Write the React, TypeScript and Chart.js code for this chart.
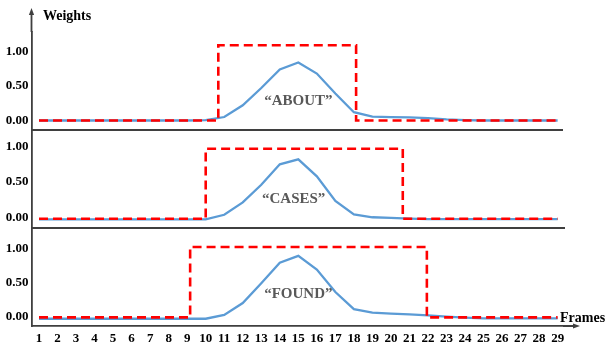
import React, { useEffect, useRef } from "react";
import { Chart, registerables } from "chart.js";

Chart.register(...registerables);

// ---------------- data ----------------
const FRAMES = [1, 2, 3, 4, 5, 6, 7, 8, 9, 10, 11, 12, 13, 14, 15, 16, 17, 18, 19, 20, 21, 22, 23, 24, 25, 26, 27, 28, 29];
const Y_TICKS = [0, 0.5, 1];

const WORDS = ["“ABOUT”", "“CASES”", "“FOUND”"];

// attention weights (blue solid line)
const ABOUT_WEIGHTS = [0, 0, 0, 0, 0, 0, 0, 0, 0, 0.005, 0.05, 0.22, 0.47, 0.74, 0.84, 0.68, 0.39, 0.12, 0.055, 0.05, 0.045, 0.035, 0.015, 0.005, 0, 0, 0, 0, 0];
const CASES_WEIGHTS = [-0.03, -0.03, -0.03, -0.03, -0.03, -0.03, -0.03, -0.03, -0.03, -0.03, 0.035, 0.21, 0.46, 0.75, 0.82, 0.58, 0.23, 0.04, 0.0, -0.01, -0.02, -0.025, -0.025, -0.025, -0.025, -0.025, -0.025, -0.025, -0.025];
const FOUND_WEIGHTS = [-0.03, -0.03, -0.03, -0.03, -0.03, -0.03, -0.03, -0.03, -0.03, -0.03, 0.025, 0.2, 0.49, 0.79, 0.89, 0.69, 0.36, 0.11, 0.06, 0.045, 0.035, 0.02, 0.0, -0.015, -0.025, -0.025, -0.025, -0.025, -0.025];

// ground-truth word spans (red dashed step)
const ABOUT_SPAN_X = [1, 10.68, 10.68, 18.12, 18.12, 29];
const ABOUT_SPAN_Y = [0, 0, 1.09, 1.09, 0, 0];
const CASES_SPAN_X = [1, 10.0, 10.0, 20.64, 20.64, 29];
const CASES_SPAN_Y = [-0.02, -0.02, 0.97, 0.97, -0.02, -0.02];
const FOUND_SPAN_X = [1, 9.16, 9.16, 21.94, 21.94, 29];
const FOUND_SPAN_Y = [-0.01, -0.01, 1.02, 1.02, -0.01, -0.01];

// ---------------- styles ----------------
const FONT = "'Liberation Serif', 'Times New Roman', serif";
const AXIS_COLOR = "#3f3f3f";
const BLUE = "#5b9bd5";
const RED = "#ff0000";

const zip = (xs: number[], ys: number[]) => xs.map((x, i) => ({ x, y: ys[i] }));

const redSet = (xs: number[], ys: number[], axis: string) => ({
  data: zip(xs, ys),
  yAxisID: axis,
  borderColor: RED,
  borderWidth: 2.6,
  borderDash: [9, 5],
  borderJoinStyle: "miter" as const,
  pointRadius: 0,
  tension: 0,
});
const blueSet = (ys: number[], axis: string) => ({
  data: zip(FRAMES, ys),
  yAxisID: axis,
  borderColor: BLUE,
  borderWidth: 2.3,
  pointRadius: 0,
  tension: 0,
});

const yScale = (min: number, max: number, weight: number) => ({
  type: "linear" as const,
  position: "left" as const,
  stack: "panels",
  stackWeight: 1,
  weight,
  min,
  max,
  afterBuildTicks: (s: any) => {
    s.ticks = Y_TICKS.map((v) => ({ value: v }));
  },
  afterFit: (s: any) => {
    s.width = 31.5;
  },
  grid: { display: false, drawTicks: false },
  border: { display: true, color: AXIS_COLOR, width: 1.8 },
  ticks: {
    padding: 3,
    color: "#000",
    font: { family: FONT, size: 13, weight: "bold" as const },
    callback: (v: any) => Number(v).toFixed(2),
  },
});

const decor = {
  id: "decor",
  afterDraw(chart: any) {
    const { ctx, chartArea } = chart;
    const xs = chart.scales.x;
    const panels = [chart.scales.y1, chart.scales.y2, chart.scales.y3];
    const left = chartArea.left;
    const right = chartArea.right;
    const bottom = chartArea.bottom;
    ctx.save();
    ctx.strokeStyle = AXIS_COLOR;
    ctx.fillStyle = AXIS_COLOR;
    ctx.lineWidth = 1.8;
    // separators between panels
    ctx.beginPath();
    ctx.moveTo(left, panels[0].bottom);
    ctx.lineTo(right, panels[0].bottom);
    ctx.moveTo(left, panels[1].bottom);
    ctx.lineTo(right + 2, panels[1].bottom);
    // y axis extension
    ctx.moveTo(left, chartArea.top);
    ctx.lineTo(left, 13);
    // x axis extension
    ctx.moveTo(right, bottom);
    ctx.lineTo(575, bottom);
    ctx.stroke();
    // arrow heads
    ctx.beginPath();
    ctx.moveTo(left, 8);
    ctx.lineTo(left - 2.6, 15);
    ctx.lineTo(left + 2.6, 15);
    ctx.closePath();
    ctx.fill();
    ctx.beginPath();
    ctx.moveTo(580, bottom);
    ctx.lineTo(573, bottom - 2.6);
    ctx.lineTo(573, bottom + 2.6);
    ctx.closePath();
    ctx.fill();
    // axis titles
    ctx.fillStyle = "#000";
    ctx.font = `bold 14px ${FONT}`;
    ctx.textBaseline = "middle";
    ctx.textAlign = "left";
    ctx.fillText("Weights", 43, 16);
    ctx.fillText("Frames", 560, 318);
    // word labels
    ctx.fillStyle = "#595959";
    ctx.font = `bold 15px ${FONT}`;
    ctx.textAlign = "center";
    const labelY = [0.28, 0.255, 0.33];
    const labelX = [15, 14.75, 15];
    panels.forEach((p: any, i: number) => {
      ctx.fillText(WORDS[i], xs.getPixelForValue(labelX[i]), p.getPixelForValue(labelY[i]));
    });
    ctx.restore();
  },
};

export default function App() {
  const ref = useRef<HTMLCanvasElement>(null);
  useEffect(() => {
    const chart = new Chart(ref.current as HTMLCanvasElement, {
      type: "line",
      data: {
        datasets: [
          redSet(ABOUT_SPAN_X, ABOUT_SPAN_Y, "y1"),
          redSet(CASES_SPAN_X, CASES_SPAN_Y, "y2"),
          redSet(FOUND_SPAN_X, FOUND_SPAN_Y, "y3"),
          blueSet(ABOUT_WEIGHTS, "y1"),
          blueSet(CASES_WEIGHTS, "y2"),
          blueSet(FOUND_WEIGHTS, "y3"),
        ] as any,
      },
      options: {
        responsive: false,
        animation: false,
        layout: { padding: { top: 32, right: 44, bottom: 0, left: 0 } },
        plugins: { legend: { display: false }, tooltip: { enabled: false }, title: { display: false } },
        scales: {
          x: {
            type: "linear",
            min: 0.595,
            max: 29.29,
            afterBuildTicks: (s: any) => {
              s.ticks = FRAMES.map((v) => ({ value: v }));
            },
            afterFit: (s: any) => {
              s.height = 27;
            },
            grid: { display: false, drawTicks: false },
            border: { display: true, color: AXIS_COLOR, width: 1.8 },
            ticks: {
              padding: 5,
              maxRotation: 0,
              autoSkip: false,
              color: "#000",
              font: { family: FONT, size: 13, weight: "bold" },
              callback: (v: any) => String(v),
            },
          },
          y1: yScale(-0.138, 1.282, 3),
          y2: yScale(-0.152, 1.236, 2),
          y3: yScale(-0.136, 1.297, 1),
        } as any,
      },
      plugins: [decor],
    });
    return () => chart.destroy();
  }, []);
  return (
    <div style={{ position: "fixed", left: 0, top: 0, width: 607, height: 353, background: "#fff" }}>
      <canvas ref={ref} width={607} height={353} style={{ display: "block", width: 607, height: 353 }} />
    </div>
  );
}
